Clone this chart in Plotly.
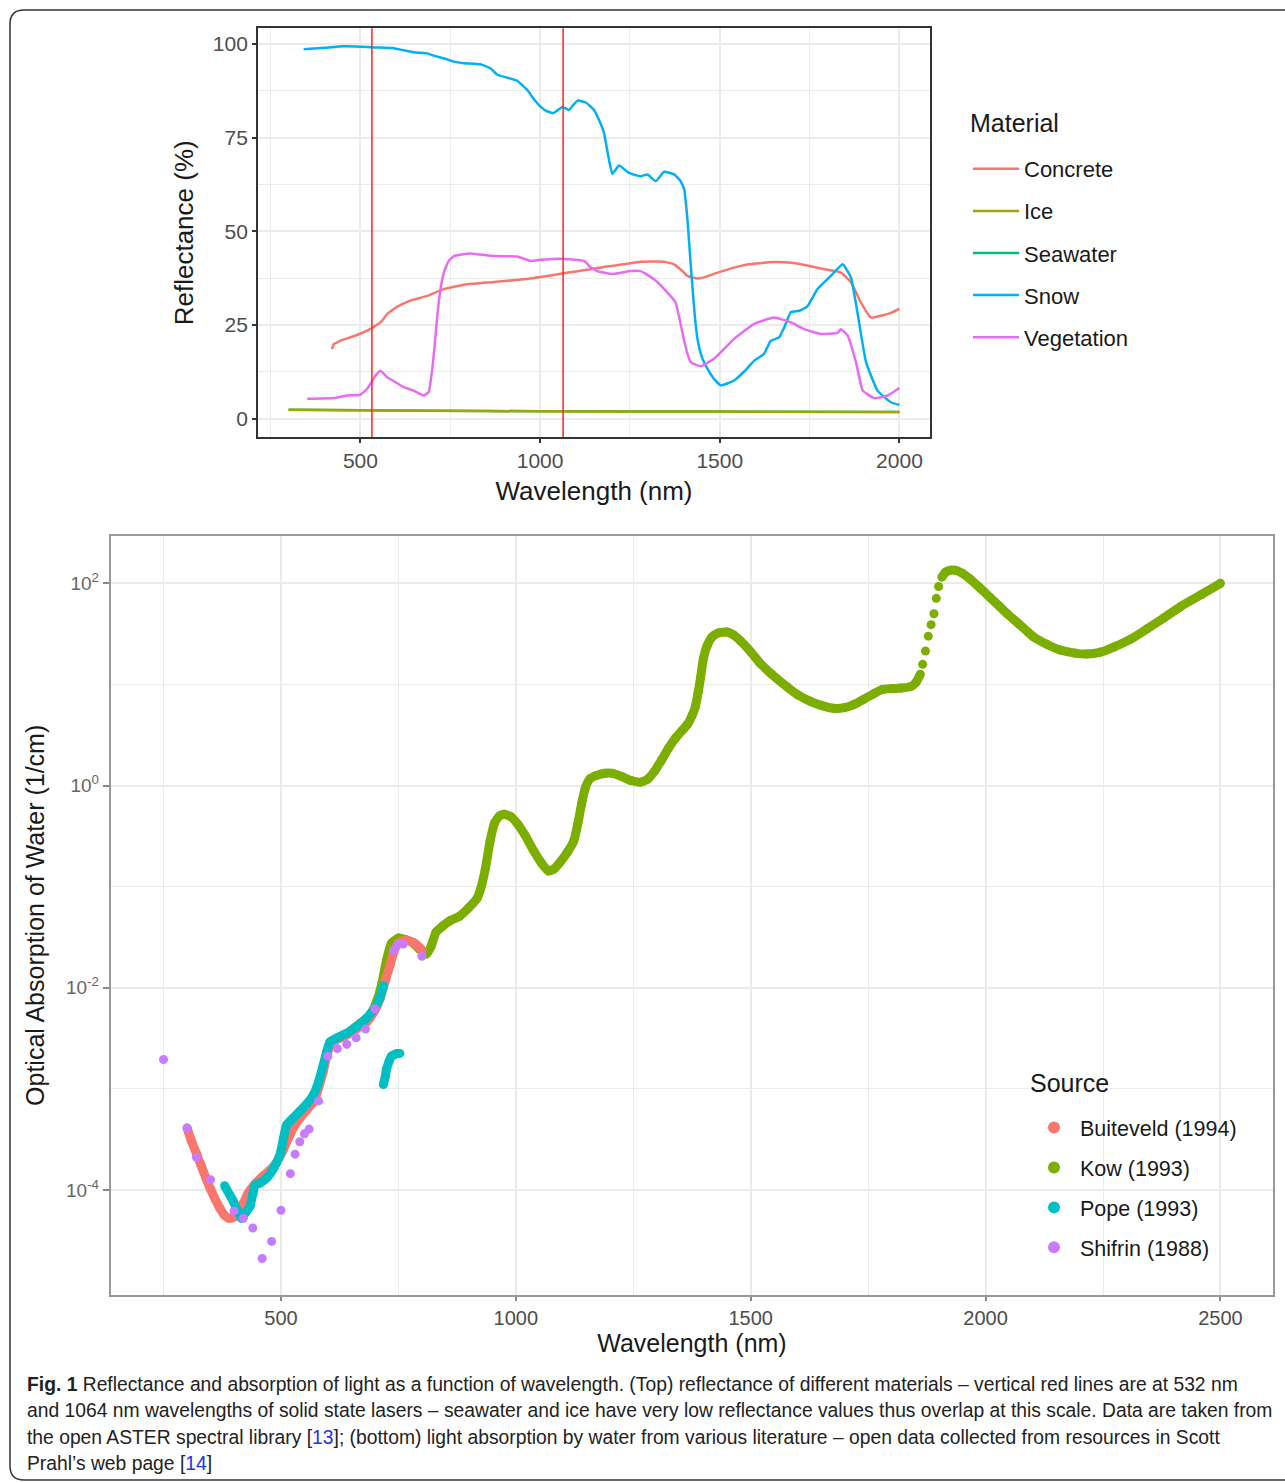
import plotly.graph_objects as go

W, H = 1285, 1483

# ---------------- Top chart data (reflectance, %) ----------------
materials = ["Concrete", "Ice", "Seawater", "Snow", "Vegetation"]
mat_colors = ["#F8766D", "#A3A500", "#00BF7D", "#00B0F6", "#E76BF3"]

concrete_nm = [421, 426, 444, 481, 519, 556, 575, 593, 615, 639, 686, 732, 797, 871, 964, 1001,
               1057, 1100, 1141, 1190, 1233, 1280, 1345, 1373, 1395, 1410, 1438, 1465, 1494,
               1559, 1600, 1651, 1700, 1726, 1791, 1837, 1865, 1893, 1921, 1948, 1975, 2000]
concrete_r = [18.6, 19.9, 20.8, 22.0, 23.5, 25.7, 28.0, 29.3, 30.5, 31.5, 32.8, 34.6, 35.9, 36.5, 37.3, 37.8,
              38.7, 39.3, 39.9, 40.7, 41.2, 41.9, 41.9, 41.2, 39.5, 38.1, 37.4, 38.0, 39.0,
              40.8, 41.4, 41.8, 41.6, 41.2, 39.9, 39.0, 36.4, 31.0, 27.0, 27.5, 28.2, 29.3]

ice_nm = [300, 700, 1000, 1500, 2000]
ice_r = [2.4, 2.1, 2.0, 1.9, 1.8]

seawater_nm = [300, 700, 1000, 1500, 2000]
seawater_r = [2.4, 2.1, 2.0, 1.9, 1.8]

snow_nm = [342, 400, 453, 500, 537, 593, 648, 686, 704, 732, 760, 788, 834, 862, 881, 910, 936, 964,
           985, 1001, 1020, 1038, 1062, 1080, 1104, 1127, 1150, 1165, 1178, 1190, 1201, 1220, 1247,
           1280, 1299, 1322, 1345, 1373, 1390, 1401, 1410, 1420, 1430, 1438, 1450, 1466, 1485, 1503,
           1520, 1540, 1570, 1596, 1623, 1642, 1665, 1680, 1698, 1721, 1744, 1772, 1809, 1842, 1865,
           1883, 1907, 1939, 1976, 2000]
snow_r = [98.6, 99.0, 99.4, 99.3, 99.1, 98.9, 97.8, 97.5, 96.9, 96.2, 95.3, 94.9, 94.6, 93.5, 91.8, 91.0, 90.2, 87.8,
          85.0, 83.3, 82.0, 81.6, 83.2, 82.4, 84.9, 84.4, 82.4, 79.5, 76.2, 70.0, 65.4, 67.6, 65.6,
          64.7, 65.2, 63.4, 65.9, 65.2, 63.5, 61.2, 53.2, 40.0, 28.0, 21.3, 16.5, 13.3, 10.5, 8.9,
          9.4, 10.2, 12.8, 15.5, 17.3, 20.8, 21.7, 24.5, 28.5, 28.8, 30.0, 34.6, 38.1, 41.2, 37.7,
          28.4, 15.1, 7.5, 4.4, 3.7]

veg_nm = [352, 426, 463, 500, 519, 542, 556, 574, 593, 621, 648, 676, 690, 700, 707, 714, 722, 732,
          745, 760, 806, 871, 936, 974, 1001, 1057, 1122, 1140, 1159, 1201, 1252, 1280, 1317, 1354,
          1377, 1396, 1408, 1419, 1447, 1484, 1540, 1596, 1651, 1698, 1735, 1781, 1828, 1837, 1856,
          1879, 1898, 1930, 1967, 2000]
veg_r = [5.3, 5.5, 6.2, 6.4, 8.0, 11.5, 12.8, 11.1, 10.0, 8.4, 7.5, 6.2, 7.1, 13.3, 20.0, 27.5, 34.0, 39.0,
         42.0, 43.4, 44.1, 43.4, 43.3, 42.1, 42.4, 42.7, 42.1, 40.5, 39.4, 38.6, 39.4, 39.4, 37.2, 33.7,
         31.0, 23.0, 18.0, 15.1, 14.0, 16.0, 21.3, 25.3, 27.0, 25.7, 23.9, 22.6, 22.9, 23.9, 22.2,
         15.1, 7.5, 5.5, 6.2, 8.2]

laser_nm = [532, 1064]

# ---------------- Bottom chart data (absorption, 1/cm) ----------------
sources = ["Buiteveld (1994)", "Kow (1993)", "Pope (1993)", "Shifrin (1988)"]
src_colors = ["#F8766D", "#7CAE00", "#00BFC4", "#C77CFF"]

buiteveld_nm = [300, 310, 320, 330, 340, 350, 360, 370, 380, 390, 400, 410, 420, 430, 445, 460, 475,
                490, 505, 519, 530, 540, 555, 569, 580, 590, 600, 610, 625, 640, 660, 683, 700, 711,
                722, 732, 740, 750, 765, 782, 795, 800]
buiteveld_a = [4.1e-4, 3.0e-4, 2.3e-4, 1.74e-4, 1.32e-4, 1.02e-4, 8.1e-5, 6.6e-5, 5.6e-5, 5.25e-5,
               5.4e-5, 6.0e-5, 7.4e-5, 9.3e-5, 1.15e-4, 1.35e-4, 1.55e-4, 1.86e-4, 2.5e-4, 3.5e-4,
               4.4e-4, 5.1e-4, 6.2e-4, 7.4e-4, 1.02e-3, 1.48e-3, 2.34e-3, 2.95e-3, 3.16e-3, 3.4e-3,
               3.9e-3, 4.6e-3, 6.0e-3, 7.8e-3, 1.17e-2, 1.66e-2, 2.24e-2, 2.75e-2, 2.95e-2, 2.8e-2,
               2.5e-2, 2.35e-2]

kow_nm = [650, 670, 690, 705, 715, 725, 735, 750, 765, 780, 795, 810, 820, 830, 845, 860, 880, 900,
          917, 925, 935, 945, 955, 965, 975, 990, 1005, 1020, 1037, 1055, 1069, 1080, 1094, 1110,
          1123, 1132, 1140, 1148, 1158, 1172, 1190, 1205, 1225, 1245, 1265, 1280, 1295, 1310, 1325,
          1340, 1355, 1365, 1375, 1382, 1388, 1393, 1399, 1407, 1418, 1432, 1449, 1463, 1478, 1500,
          1520, 1545, 1577, 1600, 1627, 1650, 1676, 1700, 1719, 1740, 1762, 1780, 1800, 1820, 1840,
          1852, 1861, 1866, 1872, 1878, 1884, 1890, 1895, 1900, 1907, 1915, 1925, 1935, 1950, 1965,
          1989, 2010, 2030, 2046, 2070, 2090, 2102, 2130, 2159, 2190, 2216, 2245, 2273, 2310, 2344,
          2380, 2415, 2460, 2500]
kow_a = [3.8e-3, 4.5e-3, 5.4e-3, 7.6e-3, 1.12e-2, 1.9e-2, 2.75e-2, 3.1e-2, 3.0e-2, 2.8e-2, 2.4e-2,
         2.16e-2, 2.6e-2, 3.55e-2, 4.1e-2, 4.6e-2, 5.1e-2, 6.2e-2, 7.6e-2, 9.5e-2, 0.15, 0.28, 0.43,
         0.50, 0.52, 0.49, 0.41, 0.32, 0.23, 0.17, 0.143, 0.148, 0.174, 0.22, 0.28, 0.42, 0.66, 0.95,
         1.17, 1.26, 1.32, 1.32, 1.23, 1.12, 1.08, 1.15, 1.38, 1.78, 2.34, 2.95, 3.55, 4.0, 4.9, 6.0,
         8.3, 11.5, 17.8, 24, 29.5, 32.4, 33, 31, 27, 21, 16.2, 12.6, 9.5, 7.9, 6.8, 6.2, 5.8, 5.9,
         6.3, 7.1, 8.1, 8.9, 9.1, 9.2, 9.5, 10.5, 12.6, 15.8, 21.4, 30, 39, 50, 71, 93, 115, 129, 135,
         135, 126, 112, 89, 72, 59, 50, 40, 33, 29.5, 25, 21.9, 20.4, 20, 20.9, 23.4, 28.2, 35.5, 45.7,
         58.9, 77.6, 100]

pope_nm = [380, 390, 398, 407, 416, 425, 434, 440, 445, 455, 470, 485, 498, 505, 512, 525, 540, 555,
           569, 580, 590, 597, 604, 620, 640, 660, 675, 690, 704, 712, 718,
           None, 718, 722, 725, 730, 735, 740, 748, 753]
pope_a = [1.1e-4, 9.1e-5, 7.8e-5, 6.3e-5, 5.25e-5, 6.0e-5, 6.9e-5, 9.1e-5, 1.12e-4, 1.17e-4, 1.32e-4,
          1.66e-4, 2.24e-4, 3.2e-4, 4.4e-4, 5.1e-4, 6.0e-4, 7.1e-4, 8.7e-4, 1.17e-3, 1.72e-3, 2.3e-3,
          2.9e-3, 3.2e-3, 3.55e-3, 4.1e-3, 4.6e-3, 5.5e-3, 6.8e-3, 8.3e-3, 1.05e-2,
          None, 1.1e-3, 1.32e-3, 1.58e-3, 1.86e-3, 2.1e-3, 2.16e-3, 2.24e-3, 2.24e-3]

shifrin_nm = [250, 300, 320, 350, 400, 420, 440, 460, 480, 500, 520, 530, 540, 550, 560, 580, 600,
              620, 640, 660, 680, 700, 740, 750, 760, 800]
shifrin_a = [1.95e-3, 4.1e-4, 2.1e-4, 1.26e-4, 6.2e-5, 5.25e-5, 4.2e-5, 2.1e-5, 3.1e-5, 6.3e-5,
             1.45e-4, 2.26e-4, 3.0e-4, 3.6e-4, 4.0e-4, 7.6e-4, 2.1e-3, 2.5e-3, 2.75e-3, 3.2e-3,
             3.9e-3, 6.2e-3, 2.35e-2, 2.7e-2, 2.7e-2, 2.05e-2]

caption_lines = [
    "<b>Fig. 1</b> Reflectance and absorption of light as a function of wavelength. (Top) reflectance of different materials – vertical red lines are at 532 nm",
    "and 1064 nm wavelengths of solid state lasers – seawater and ice have very low reflectance values thus overlap at this scale. Data are taken from",
    "the open ASTER spectral library [<span style='color:#2233ee'>13</span>]; (bottom) light absorption by water from various literature – open data collected from resources in Scott",
    "Prahl’s web page [<span style='color:#2233ee'>14</span>]",
]

FONT = "Liberation Sans, Arial, sans-serif"

def px_x(x):
    return x / W

def px_y(y):
    return 1 - y / H

fig = go.Figure()

# ---------- top traces ----------
top_series = {
    "Concrete": (concrete_nm, concrete_r),
    "Ice": (ice_nm, ice_r),
    "Seawater": (seawater_nm, seawater_r),
    "Snow": (snow_nm, snow_r),
    "Vegetation": (veg_nm, veg_r),
}
draw_order = ["Concrete", "Seawater", "Ice", "Snow", "Vegetation"]
for name in draw_order:
    i = materials.index(name)
    xs, ys = top_series[name]
    fig.add_trace(go.Scatter(
        x=xs, y=ys, mode="lines", name=name,
        line=dict(color=mat_colors[i], width=2.5, shape="spline", smoothing=0.4),
        xaxis="x", yaxis="y", legend="legend", legendgroup=name, legendrank=i + 1,
        hoverinfo="skip"))

# ---------- bottom traces ----------
bottom_series = {
    "Buiteveld (1994)": (buiteveld_nm, buiteveld_a),
    "Kow (1993)": (kow_nm, kow_a),
    "Pope (1993)": (pope_nm, pope_a),
    "Shifrin (1988)": (shifrin_nm, shifrin_a),
}
b_order = ["Kow (1993)", "Buiteveld (1994)", "Pope (1993)", "Shifrin (1988)"]
for name in b_order:
    i = sources.index(name)
    xs, ys = bottom_series[name]
    col = src_colors[i]
    if name != "Shifrin (1988)":
        if name == "Kow (1993)":
            segs = [([x for x in xs if x <= 1861], [y for x, y in zip(xs, ys) if x <= 1861]),
                    ([x for x in xs if x >= 1907], [y for x, y in zip(xs, ys) if x >= 1907])]
        else:
            segs = [(xs, ys)]
        for sx, sy in segs:
            fig.add_trace(go.Scatter(
                x=sx, y=sy, mode="lines", showlegend=False,
                line=dict(color=col, width=9, shape="spline", smoothing=0.5),
                xaxis="x2", yaxis="y2", legend="legend2", legendgroup=name,
                hoverinfo="skip", connectgaps=False))
    fig.add_trace(go.Scatter(
        x=xs, y=ys, mode="markers", name=name,
        marker=dict(color=col, size=9, line=dict(width=0)),
        xaxis="x2", yaxis="y2", legend="legend2", legendgroup=name, legendrank=i + 1,
        hoverinfo="skip"))

# laser lines
for v in laser_nm:
    fig.add_shape(type="line", x0=v, x1=v, xref="x", y0=0, y1=1, yref="y domain",
                  line=dict(color="#FF2020", width=1.5), layer="above")

# white box behind the bottom legend (covers grid lines, under the data)
fig.add_shape(type="rect", xref="paper", yref="paper",
              x0=px_x(1015), x1=px_x(1252), y0=px_y(1278), y1=px_y(1056),
              fillcolor="white", line=dict(width=0), layer="between")

grid = "#EBEBEB"
tickfont = dict(family=FONT, size=21, color="#4D4D4D")

fig.update_layout(
    width=W, height=H,
    margin=dict(l=0, r=0, t=0, b=0),
    paper_bgcolor="white", plot_bgcolor="white",
    font=dict(family=FONT),
    xaxis=dict(domain=[px_x(258), px_x(930)], range=[215, 2085], anchor="y",
               tickvals=[500, 1000, 1500, 2000], ticks="outside", ticklen=4, tickwidth=1.5,
               tickcolor="#333333", tickfont=tickfont, showgrid=True, gridcolor=grid, gridwidth=1.5,
               minor=dict(tickvals=[250, 750, 1250, 1750], showgrid=True, gridcolor=grid, gridwidth=0.8, ticks=""),
               showline=True, mirror=True, linecolor="#333333", linewidth=1.8, zeroline=False,
               title=dict(text="Wavelength (nm)", font=dict(family=FONT, size=26, color="#1A1A1A"), standoff=10)),
    yaxis=dict(domain=[px_y(437.3), px_y(28.3)], range=[-4.96, 104.2], anchor="x",
               tickvals=[0, 25, 50, 75, 100], ticks="outside", ticklen=4, tickwidth=1.5,
               tickcolor="#333333", tickfont=tickfont, showgrid=True, gridcolor=grid, gridwidth=1.5,
               minor=dict(tickvals=[12.5, 37.5, 62.5, 87.5], showgrid=True, gridcolor=grid, gridwidth=0.8, ticks=""),
               showline=True, mirror=True, linecolor="#333333", linewidth=1.8, zeroline=False,
               title=dict(text="Reflectance (%)", font=dict(family=FONT, size=26, color="#1A1A1A"), standoff=12)),
    xaxis2=dict(domain=[px_x(110.7), px_x(1273.3)], range=[137.5, 2612.5], anchor="y2",
                tickvals=[500, 1000, 1500, 2000, 2500], ticks="outside", ticklen=4, tickwidth=1.5,
                tickcolor="#888888", tickfont=dict(family=FONT, size=20, color="#4D4D4D"),
                showgrid=True, gridcolor=grid, gridwidth=1.5,
                minor=dict(tickvals=[250, 750, 1250, 1750, 2250], showgrid=True, gridcolor=grid, gridwidth=0.8, ticks=""),
                showline=True, mirror=True, linecolor="#999999", linewidth=1.8, zeroline=False,
                title=dict(text="Wavelength (nm)", font=dict(family=FONT, size=25, color="#1A1A1A"), standoff=6)),
    yaxis2=dict(domain=[px_y(1295), px_y(535.7)], type="log", range=[-5.039, 2.471], anchor="x2",
                tickvals=[1e-4, 1e-2, 1, 1e2],
                ticktext=["10<sup>-4</sup>", "10<sup>-2</sup>", "10<sup>0</sup>", "10<sup>2</sup>"],
                ticks="outside", ticklen=6, tickwidth=1.5,
                tickcolor="#888888", tickfont=dict(family=FONT, size=19, color="#666666"),
                showgrid=True, gridcolor=grid, gridwidth=1.5,
                minor=dict(tickvals=[1e-3, 1e-1, 10], showgrid=True, gridcolor=grid, gridwidth=0.8, ticks=""),
                showline=True, mirror=True, linecolor="#999999", linewidth=1.8, zeroline=False,
                title=dict(text="Optical Absorption of Water (1/cm)", font=dict(family=FONT, size=25, color="#1A1A1A"), standoff=14)),
    legend=dict(x=px_x(968), y=px_y(148), xanchor="left", yanchor="top",
                font=dict(family=FONT, size=22, color="#1A1A1A"), itemwidth=46,
                bgcolor="rgba(255,255,255,0)", traceorder="grouped", tracegroupgap=10.5),
    legend2=dict(x=px_x(1028), y=px_y(1107), xanchor="left", yanchor="top",
                 font=dict(family=FONT, size=21.5, color="#1A1A1A"), itemwidth=42,
                 bgcolor="rgba(255,255,255,0)", traceorder="grouped", tracegroupgap=9,
                 itemsizing="constant"),
)

# legend titles
fig.add_annotation(text="Material", x=px_x(968), y=px_y(123), xref="paper", yref="paper",
                   xanchor="left", yanchor="middle", showarrow=False,
                   font=dict(family=FONT, size=25, color="#1A1A1A"))
fig.add_annotation(text="Source", x=px_x(1028), y=px_y(1083), xref="paper", yref="paper",
                   xanchor="left", yanchor="middle", showarrow=False,
                   font=dict(family=FONT, size=25, color="#1A1A1A"))

# outer rounded frame
x0, y0, x1, y1, r = 10, 10, 1300, 1480, 14
def P(x, y):
    return f"{px_x(x):.5f},{px_y(y):.5f}"
path = (f"M {P(x0 + r, y0)} L {P(x1 - r, y0)} Q {P(x1, y0)} {P(x1, y0 + r)} "
        f"L {P(x1, y1 - r)} Q {P(x1, y1)} {P(x1 - r, y1)} L {P(x0 + r, y1)} "
        f"Q {P(x0, y1)} {P(x0, y1 - r)} L {P(x0, y0 + r)} Q {P(x0, y0)} {P(x0 + r, y0)} Z")
fig.add_shape(type="path", path=path, xref="paper", yref="paper",
              line=dict(color="#333333", width=1.5), layer="below")

# caption
cap_y = [1384, 1410, 1437, 1463]
for txt, yy in zip(caption_lines, cap_y):
    fig.add_annotation(text=txt, x=px_x(25), y=px_y(yy), xref="paper", yref="paper",
                       xanchor="left", yanchor="middle", showarrow=False,
                       font=dict(family=FONT, size=19.3, color="#222222"))

fig.write_html("out.html", config={"displayModeBar": False},
               post_script="document.body.style.margin='0px';")
